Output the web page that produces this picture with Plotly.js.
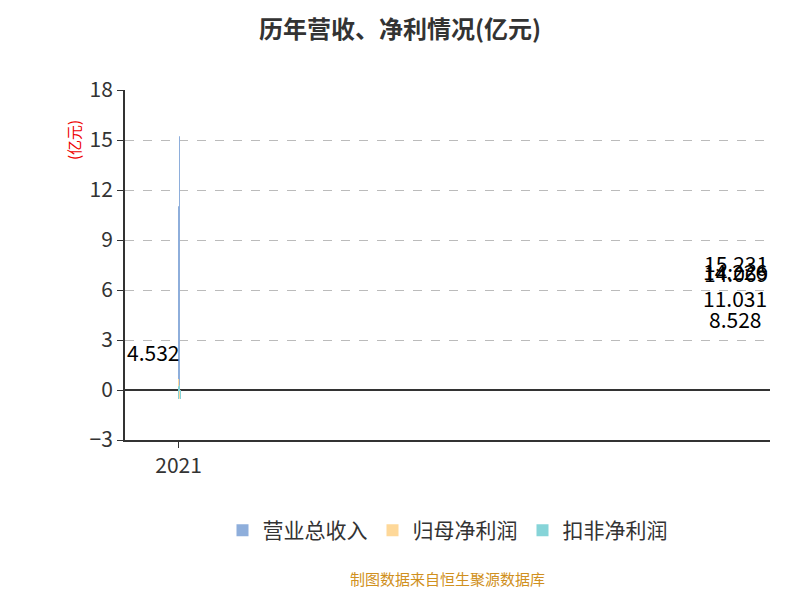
<!DOCTYPE html>
<html><head><meta charset="utf-8"><script src="https://cdn.plot.ly/plotly-3.0.1.min.js"></script>
<style>body{margin:0}</style></head><body><div id="c" style="width:800px;height:600px"></div>
<script>
const categories=['2021','2022','2023','2024','2025','2026H1'];
const revenue=[8.528,11.031,14.226,14.069,15.231,4.532];
const netProfit=[0.66,0.36,0.24,0.05,0.04,-0.52];
const deductedProfit=[-0.54,0.22,0.3,-0.03,0.12,-0.54];
const revLabels=revenue.map(v=>String(v));
const f='"Noto Sans CJK SC","Noto Sans",sans-serif';
const traces=[
{type:'bar',name:'营业总收入',x:categories,y:revenue,marker:{color:'#8eaedb'}},
{type:'bar',name:'归母净利润',x:categories,y:netProfit,marker:{color:'#fed899'}},
{type:'bar',name:'扣非净利润',x:categories,y:deductedProfit,marker:{color:'#86d4d8'}}
];
const anns=categories.map((c,i)=>({x:c,y:revenue[i]/2,text:revLabels[i],showarrow:false,xshift:-27,font:{size:21,color:'#000',family:f}}));
anns.push({text:'制图数据来自恒生聚源数据库',xref:'paper',yref:'paper',x:0.5,y:-0.43,showarrow:false,font:{size:15,color:'#d09020'}});
anns.push({text:'(亿元)',xref:'paper',yref:'paper',x:-0.1,y:0.92,textangle:-90,showarrow:false,font:{size:15,color:'#e00'}});
const layout={width:800,height:600,margin:{l:125,r:30,t:90,b:160},paper_bgcolor:'#fff',plot_bgcolor:'#fff',
font:{family:f,color:'#333'},
title:{text:'<b>历年营收、净利情况(亿元)</b>',x:0.5,y:0.965,font:{size:24,color:'#333'}},
barmode:'group',bargap:0.25,bargroupgap:0.1,
xaxis:{type:'category',showline:true,linecolor:'#333',linewidth:2,ticks:'outside',tickcolor:'#333',ticklen:6,tickfont:{size:21}},
yaxis:{range:[-3,18],dtick:3,showline:true,linecolor:'#333',linewidth:2,ticks:'outside',ticklen:6,tickcolor:'#333',tickfont:{size:21},
gridcolor:'#bbb',griddash:'dash',zeroline:true,zerolinecolor:'#333',zerolinewidth:2},
legend:{orientation:'h',x:0.5,xanchor:'center',y:-0.2,font:{size:21}},
annotations:anns
};
Plotly.newPlot('c',traces,layout,{displayModeBar:false});
</script></body></html>
